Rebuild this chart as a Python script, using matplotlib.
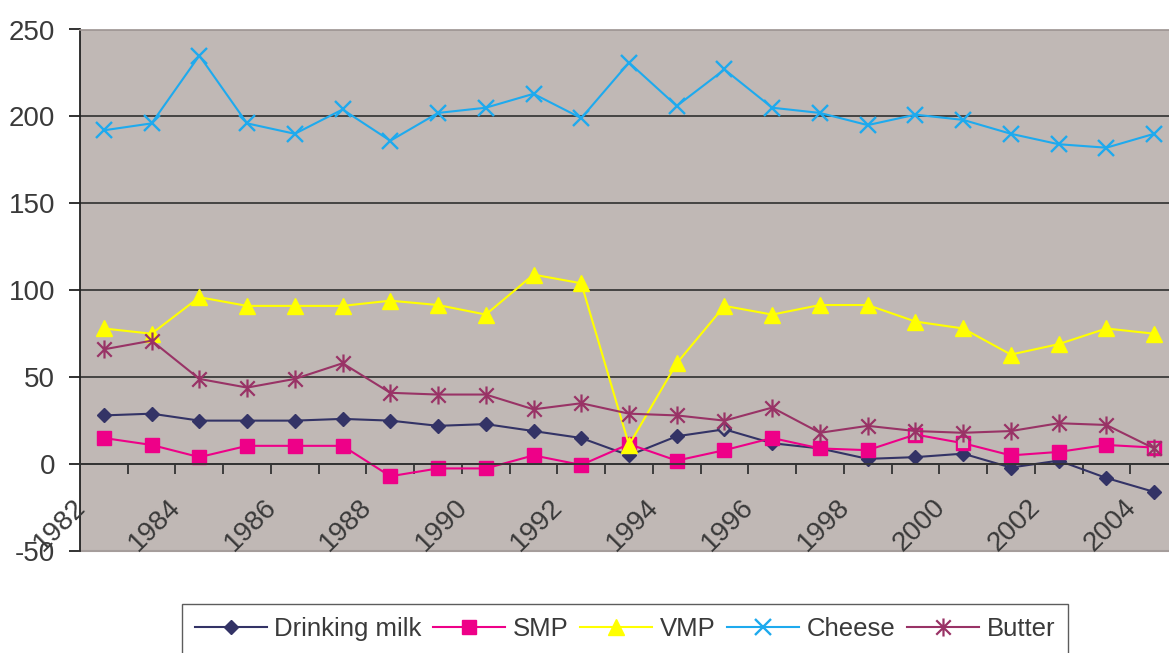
import matplotlib
matplotlib.use("Agg")
import matplotlib.pyplot as plt
import numpy as np
from matplotlib.path import Path
from matplotlib.transforms import ScaledTranslation

# values
years = list(range(1982, 2005))
label_years = list(range(1982, 2005, 2))
drinking_milk = [28, 29, 25, 25, 25, 26, 25, 22, 23, 19, 15, 5, 16, 20, 12, 9, 3, 4, 6, -2, 2, -8, -16]
smp = [15, 11, 4, 10.5, 10.5, 10.5, -7, -2.5, -2.5, 5, -0.5, 11.5, 2, 8, 15, 9, 8, 17, 12, 5, 7, 11, 9.5]
vmp = [78, 75, 96, 91, 91, 91, 94, 91.5, 86, 109, 104, 11, 58, 91, 86, 91.5, 91.5, 82, 78, 63, 69, 78, 75]
cheese = [192, 196, 235, 196, 190, 204, 186, 202, 205, 213, 199, 231, 206, 227, 205, 202, 195, 201, 198,
          190, 184, 182, 190]
butter = [66, 71, 49, 44, 49, 58, 41, 40, 40, 31.5, 35, 29, 28, 25, 32.5, 18, 22, 19, 18, 19, 23.5, 22.5, 9]
y_ticks = [-50, 0, 50, 100, 150, 200, 250]

# points drawn with an empty marker in the original
hollow = {"Drinking milk": [13], "SMP": [17, 18, 22]}

BG = "#c0b8b5"
TEXT = "#3a3a3a"

# Excel-style star: vertical bar plus an X
star = Path(
    [(0, -1), (0, 1), (-0.8, -0.8), (0.8, 0.8), (-0.8, 0.8), (0.8, -0.8)],
    [Path.MOVETO, Path.LINETO, Path.MOVETO, Path.LINETO, Path.MOVETO, Path.LINETO],
)

series = [
    ("Drinking milk", drinking_milk, "#333366", "D", 7.5, 1.0),
    ("SMP", smp, "#ee0088", "s", 9.5, 1.0),
    ("VMP", vmp, "#ffff00", "^", 11.5, 1.0),
    ("Cheese", cheese, "#1eaaee", "x", 12.0, 1.7),
    ("Butter", butter, "#993366", star, 13.0, 1.6),
]

plt.rcParams["font.family"] = ["Liberation Sans", "DejaVu Sans"]

fig = plt.figure(figsize=(11.69, 6.53), dpi=100)
ax = fig.add_axes([80 / 1169, 102 / 653, 1098 / 1169, 521.5 / 653])
ax.set_facecolor(BG)

x = np.arange(len(years))
for name, vals, color, marker, ms, mew in series:
    vals = np.asarray(vals, dtype=float)
    ax.plot(x, vals, color=color, lw=1.5, marker=marker, markersize=ms,
            markerfacecolor=color, markeredgecolor=color, markeredgewidth=mew,
            label=name, clip_on=False)
    idx = hollow.get(name, [])
    if idx:
        ax.plot(x[idx], vals[idx], ls="none", marker=marker, markersize=ms - 1,
                markerfacecolor=BG, markeredgecolor=color, markeredgewidth=1.3)

ax.set_xlim(-0.5, len(years) - 0.5)
ax.set_ylim(-50, 250)
ax.set_yticks(y_ticks)
ax.set_yticklabels([str(v) for v in y_ticks], fontsize=20, color=TEXT)
ax.tick_params(axis="y", length=8, width=1.3, pad=10, color="#222222")

ax.yaxis.grid(True, color="#3a3a3a", lw=1.3)
ax.set_axisbelow(True)
gl = ax.get_ygridlines()
gl[0].set_visible(False)
gl[-1].set_visible(False)

# category axis crosses at 0, tick marks between categories
ax.spines["bottom"].set_position(("data", 0))
ax.spines["bottom"].set_color("#333333")
ax.spines["bottom"].set_linewidth(1.3)
ax.set_xticks(np.arange(0.5, len(years) - 1, 1.0))
ax.set_xticklabels([])
ax.tick_params(axis="x", length=7, width=1.3, color="#333333", direction="out")
ax.spines["left"].set_color("#222222")
ax.spines["left"].set_linewidth(1.3)
ax.spines["top"].set_color("#9c9391")
ax.spines["top"].set_linewidth(1.2)
ax.spines["right"].set_visible(False)
ax.axhline(-50, color="#a59d9b", lw=1.5, clip_on=False)

# rotated year labels sitting inside the plot area below the zero line
offset = ScaledTranslation(-13 / 100, -30 / 100, fig.dpi_scale_trans)
for yr in label_years:
    ax.text(years.index(yr), 0, str(yr), rotation=45, ha="right", va="top",
            fontsize=20, color=TEXT, transform=ax.transData + offset)

leg = fig.legend(loc="upper left", bbox_to_anchor=(182 / 1169, 1 - 604 / 653),
                 ncol=5, fontsize=18.5, frameon=True, fancybox=False,
                 handlelength=2.8, handletextpad=0.3, columnspacing=0.45,
                 borderpad=0.5, borderaxespad=0, numpoints=1)
leg.get_frame().set_edgecolor("#333333")
leg.get_frame().set_linewidth(1.0)
for t in leg.get_texts():
    t.set_color(TEXT)

fig.savefig("out.png", dpi=100, facecolor="white")
